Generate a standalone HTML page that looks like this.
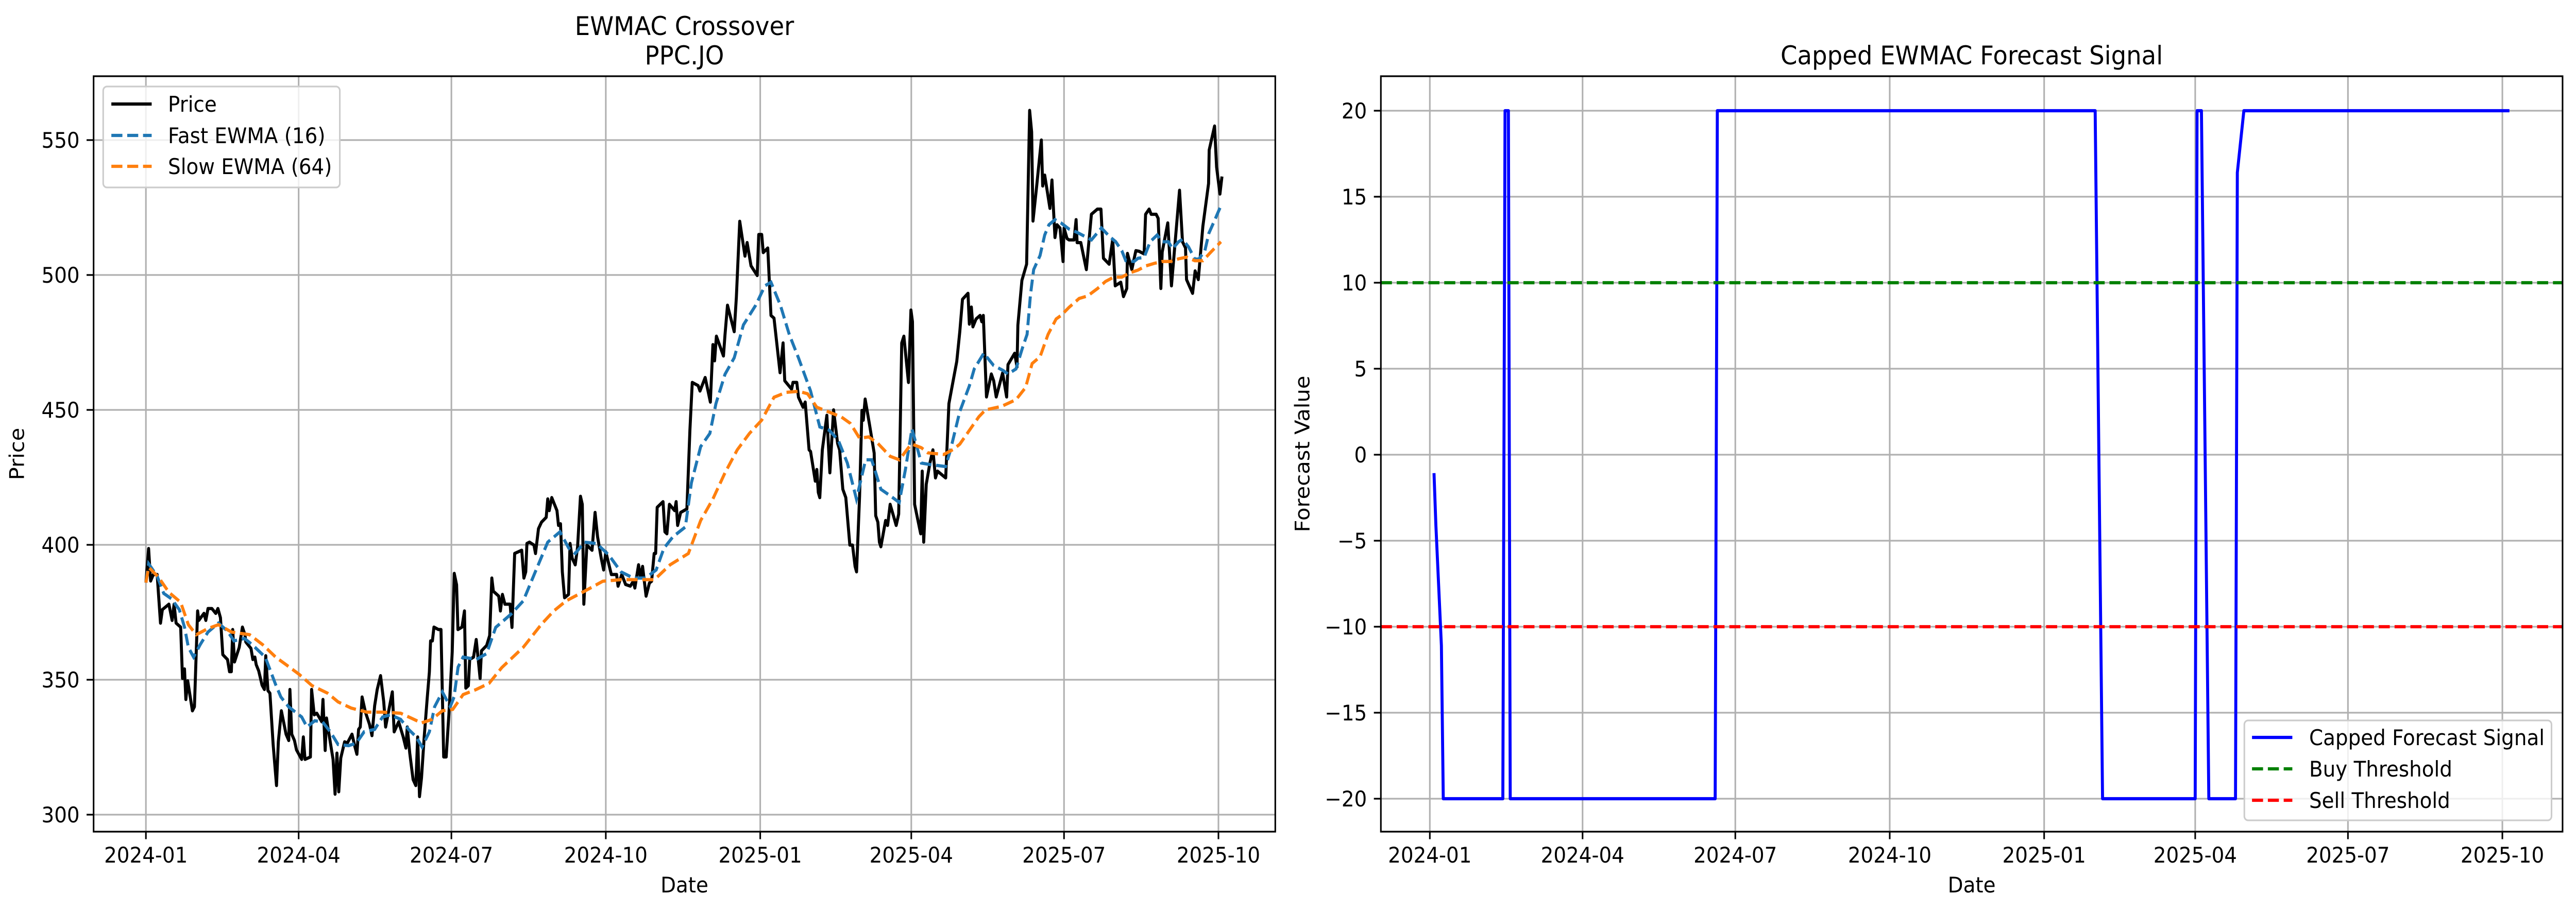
<!DOCTYPE html>
<html><head><meta charset="utf-8"><title>EWMAC Crossover</title>
<style>
html,body{margin:0;padding:0;background:#fff;width:100%;height:100%;overflow:hidden;}
svg{display:block;width:100vw;height:100vh;}
text{font-family:"DejaVu Sans","Liberation Sans",sans-serif;fill:#000;}
</style></head>
<body>
<svg id="fig" xmlns="http://www.w3.org/2000/svg" viewBox="0 0 5367 1771" preserveAspectRatio="none">
<rect x="0" y="0" width="5367" height="1771" fill="#fff"/>
<defs>
<clipPath id="clipL"><rect x="195" y="148" width="2462" height="1467"/></clipPath>
<clipPath id="clipR"><rect x="2877" y="148" width="2462" height="1467"/></clipPath>
</defs>
<g id="left"></g>
<g id="right"></g>
</svg>
<script>
// ---- data (day offsets from 2024-01-01) ----
const xTickDays = [0, 91, 182, 274, 366, 456, 547, 639];
const xTickLabels = ["2024-01","2024-04","2024-07","2024-10","2025-01","2025-04","2025-07","2025-10"];
const priceTicks = [300, 350, 400, 450, 500, 550];
const forecastTicks = [-20, -15, -10, -5, 0, 5, 10, 15, 20];
const buyThreshold = 10;
const sellThreshold = -10;

const pricePoints = [[0,386],[1.6,398.6],[2.8,386.6],[4.4,389],[6.7,389],[8.7,371],[9.8,376],[13.7,378],[15.6,372],[16.8,378],[18,371],[20.7,369.5],[21.8,350.5],[23,354],[23.8,342.7],[24.9,349.6],[27.7,338.5],[28.9,340],[30.8,375.5],[31.5,372],[34.6,374.6],[35.7,372],[37,376.4],[39.3,376.4],[41.6,374.6],[42.9,376.4],[44.4,373],[45.8,359.3],[48.6,357.5],[49.8,353],[50.9,353],[51.7,368.6],[52.8,356.6],[55.6,362],[57.5,369.5],[59,366.7],[59.5,364],[62.6,361.6],[63.7,357.5],[64.9,358.4],[65.7,355.6],[67.2,353.3],[69.2,348],[70.6,346.4],[71.4,358.9],[72.7,346],[73.9,345],[75.8,326],[77.8,310.8],[78.9,327],[80.7,338.5],[83.5,329.8],[85.1,327.5],[85.8,346.4],[86.9,329.8],[88.5,327.5],[89.7,324],[92.8,320.5],[93.8,328.8],[94.8,320.5],[98,321.4],[98.7,346.4],[100.3,337],[101.8,337.6],[104.8,334.4],[105.5,342.7],[106.8,323.8],[107.6,335.8],[109.1,329.8],[111.5,320.5],[112.7,307.6],[113.8,322.8],[114.9,308.5],[116.1,321],[118.4,327],[120,326.5],[122.8,329.8],[124.6,325],[125.7,322.4],[126.7,331.6],[127.7,332.5],[128.8,343.6],[130.8,338],[133.2,333.5],[134.7,329.3],[136.3,340.4],[137.8,346.4],[139.8,351.5],[141.7,341.8],[142.8,332.5],[146.8,345.5],[147.9,330.7],[150.6,334.4],[153.3,328.8],[154.9,324.7],[155.7,332.5],[157.2,322.8],[159.2,313],[160.8,310.8],[161.9,328.8],[163,306.7],[164.2,313.6],[165.8,328.8],[167.6,343.2],[168.9,352.9],[169.6,364.4],[170.7,364.4],[171.6,369.5],[174.3,368.6],[175.8,368.6],[177.4,321.4],[178.9,321.4],[180.5,337],[182.5,360.3],[183.7,389.4],[185.1,385.2],[185.9,368.6],[188.3,369.5],[189.8,375.5],[190.6,346.9],[192.1,347.8],[192.9,357.5],[195.2,358.4],[196.8,364.9],[199.1,350.5],[199.9,360.7],[203,362.7],[204.8,366.4],[206.1,387.7],[207,382.8],[210.2,381],[211.2,375.5],[212.4,381.6],[213.9,378],[217,378],[218.1,369.4],[219.7,396.8],[223.9,398],[225.2,387.7],[226.3,390],[227,400.5],[228.5,401],[231.2,399.9],[232.1,396.8],[233.9,406],[235.7,408.4],[238.5,410.2],[239.4,417],[240.3,412.7],[241.8,417.5],[244.9,412.7],[245.8,407.2],[247,407.8],[248.1,390],[249.4,380.4],[251.8,381.6],[252.7,400.5],[254,395],[255.8,392.6],[257.2,399.3],[258.9,418],[260,415],[260.9,378],[262.7,399.9],[265.8,398],[267.6,412],[269.1,403],[271.3,395],[272.7,390.7],[274,397.4],[277.3,389],[280.4,389],[281.3,384.7],[283.5,389],[285.8,385.3],[288.6,384.7],[290.4,386.5],[291.3,384],[293.5,392.6],[294.6,387.7],[295.9,392],[298,381],[300,385.9],[301.3,386.5],[302.8,396.8],[303.7,396.8],[304.6,413.9],[308.1,416],[309.2,404.8],[310.4,404.1],[311.9,415],[315,412.7],[315.9,416],[316.8,407.2],[318.6,412],[322.3,413.3],[324.1,442.5],[325.5,460.2],[329,459],[330.1,457],[333.2,462],[336.3,452.9],[337.8,474.2],[338.8,468.2],[339.9,477.3],[344.1,470],[345,477.8],[346.5,488.8],[350.5,479],[351.8,491.8],[353.8,519.9],[356.9,507],[358.2,512],[360.5,503.4],[364.2,499.8],[365.1,515],[366.9,515],[367.8,508.3],[370.5,510],[372.4,485],[374.2,484],[377.8,463.8],[379.6,474.8],[380.6,460.8],[384.7,457.7],[385.5,460.2],[387.8,460.2],[388.8,454.7],[391.5,451],[392.8,452.9],[395.1,435.2],[396,434.6],[398.8,423.6],[399.7,427.9],[400.6,419.4],[401.5,417.5],[403,435.2],[405.7,448],[407.5,426.7],[409.7,450],[412.1,437.6],[413.3,435.2],[415.2,420.6],[417,417.5],[419.4,399.9],[421,399.9],[422.5,392],[423.4,390],[425.2,418],[426.6,449.8],[427.4,446.2],[428.5,454],[431,445],[433.9,434],[434.8,410.8],[436.1,408.4],[437,401],[437.9,399.3],[440.7,409],[441.9,407.2],[443.4,415],[447,407.2],[448.5,411.4],[450.3,474.8],[451.6,477.3],[454.3,460.2],[455.8,487],[456.7,482.7],[458,415],[461.6,404.1],[462.5,427.3],[463.4,401],[464.9,422.4],[467.1,430.3],[468.9,435.2],[470.4,424.8],[471.6,427.3],[476.5,424.8],[478.4,452.3],[481.3,462],[483.1,468],[484.9,479],[486.5,491],[489.8,493.2],[490.6,481.8],[491.8,488.1],[492.7,480.8],[494.6,483.7],[497,485],[498,482.7],[498.9,485],[500.8,454.8],[503.7,463.3],[505.1,460.8],[506.6,454.8],[510.4,463.7],[512.8,454.8],[513.6,466.8],[517.6,471],[519,465.9],[519.5,481.4],[521.9,498],[524.7,504],[526.5,561],[527.7,553],[528.5,520],[530.7,533],[533.5,550],[534.3,533],[535.5,537],[538.6,524.7],[539.8,535.2],[541.6,513.9],[542.8,518.6],[544.6,517.4],[546.4,505],[547,517.4],[548.8,513.5],[550,513],[553,513],[554.2,520.5],[554.8,512],[557,512],[560.3,502],[563.3,522.5],[566.9,524.4],[569,524.4],[570.5,506.2],[573.9,504],[576,513.2],[577.5,496],[580.8,497.3],[582.4,492],[584.4,495],[584.8,508],[587.4,502],[589.8,509],[591.7,508.8],[594.7,507.8],[595.6,522.5],[597.7,524.4],[598.9,522.5],[601.9,522.5],[603.1,521],[604.7,495],[605.5,508.5],[608.8,519.3],[611,496],[615.8,531.4],[617.6,512.3],[619.4,510],[620,498.3],[623.6,493.2],[625.1,501.5],[627,498.3],[629.7,518],[633.1,533.9],[633.5,546.3],[636.7,555.2],[637.9,540],[639.9,530],[641.1,536.5]];

const fastPoints = [[0,386],[1.6,393],[6.7,388.4],[10.6,382],[15.2,380],[19.9,376],[23,369.5],[25.3,362],[28.4,358.4],[32.3,363],[37,367.7],[43.2,371],[48.6,368],[52.5,364.4],[58.7,365.3],[63.3,363],[71.1,358.4],[77.3,348.2],[80.4,343.6],[85,340],[92.8,336.2],[96,332.5],[100.6,334.8],[105.2,334.4],[109.9,330.7],[114.5,326],[120.8,325.6],[125.4,326.5],[130,330.7],[136.3,331.6],[141,336.2],[145.6,337],[151.8,335.3],[156.5,331.6],[161.1,328.8],[164.5,325.1],[168.9,330.7],[172,340],[176.6,345.5],[181.3,340],[183.6,343.6],[186,354.7],[189,358.4],[196.8,357.5],[203,359.7],[208.4,369.4],[217.5,374.3],[224.8,379.2],[232,390],[239.4,401],[246.7,404.8],[252,398.7],[255.8,396.8],[261.3,401],[268.5,400.5],[275.8,396.2],[283,390],[290.4,387.7],[297.7,387.7],[304,390.7],[308.6,398.7],[314,403],[321.4,406.6],[325,423],[330.5,436.4],[336,441.3],[339.6,452.3],[345,463.2],[350.5,469.3],[356,481.5],[363.3,488.8],[368.8,496],[372.4,497.3],[378,488.8],[383.4,477.8],[388.8,469.3],[396,457],[401.5,443.7],[407,442.5],[412.4,438.9],[417.9,430.3],[423.3,417],[428.8,431.5],[432.4,431.5],[437.9,420.6],[443.4,418.2],[448.8,415.7],[452.5,427.9],[456.4,443],[462,430.3],[467.8,429.7],[476.4,429],[479.2,434.8],[484.9,449.4],[490.6,458.9],[493.5,465.2],[499.2,471],[505,466.5],[510.7,464.6],[513.6,463.3],[518.4,465.2],[522.2,472.9],[525,478],[527,492.6],[528.9,502],[532.7,507.2],[535.5,514.8],[538,518.6],[541.6,520.5],[545.2,519.3],[550,517],[554.8,515.8],[559.7,514.2],[563.3,513],[569.3,517.4],[574.2,514.2],[577.8,512.3],[581.4,509],[583.8,505.3],[588.7,505],[591.1,506.2],[594.7,506.5],[598.3,512.3],[602.5,514.8],[605.5,512.3],[609.2,512.3],[611.6,509.7],[615.2,512.3],[617.6,513.2],[621.2,510.4],[624.9,505.9],[627.3,505.9],[630.9,509],[633.3,515.5],[636.9,520.5],[640,525]];

const slowPoints = [[0,386],[1.6,391.7],[7.5,388],[13.7,382.4],[20.7,378.7],[25.3,370.4],[30,366.7],[37,369],[43.2,370.4],[51,367.7],[61.8,366.7],[69.6,363],[77.3,358.4],[83.5,355.6],[91.3,352],[99,347.8],[108.3,345],[114.5,341.8],[122.3,339.5],[131.6,338],[141,338],[151.8,337.6],[158,335.8],[164.2,334],[170.4,335.3],[176.6,338.5],[182.8,339],[189,344.5],[196.8,346.4],[204.5,348.7],[212,354.5],[224.8,362],[235.7,370.6],[243,375.5],[250.3,379.2],[261.3,382.8],[272.2,386.5],[283,387.1],[294,387.1],[303,387.1],[312.3,392.6],[323.2,396.8],[330.5,409],[337.8,417],[345,426.7],[352.3,435.2],[359.6,441.3],[366.9,446.2],[374.2,454.7],[381.5,456.5],[388.8,456.9],[394.2,456],[399.7,451],[407,449.2],[414.3,447.4],[419.7,445],[425.2,439.5],[430.6,440],[436.1,437.6],[443.4,432.8],[448.9,431.5],[454.3,436],[456.4,437.3],[462,436],[465.8,434.1],[475.4,433.5],[481.1,435.4],[484.9,437.3],[490.6,442.4],[496.3,447.5],[500.2,450],[509.7,451.3],[518.4,453.8],[524.1,458.3],[528,467.2],[532.7,469.7],[537.5,478],[542.3,483.7],[545.2,485],[550,488],[556,491.3],[560.9,492.2],[567,495],[571.7,497.6],[576.6,499.2],[581.4,499.2],[586.2,500.8],[591,501.8],[595.9,503.4],[600.7,504.3],[605.5,505],[610.4,505],[615.2,506],[620,506.6],[624.9,505.3],[629.7,505.3],[634.5,508.5],[640.5,512.3]];

const signalPoints = [[2.5,-1.07],[3.6,-4.1],[6.9,-11.1],[8,-20],[43.5,-20],[44.8,20],[46.8,20],[47.9,-20],[170,-20],[171.3,20],[396.4,20],[400.8,-20],[456,-20],[457.1,20],[459.7,20],[464.1,-20],[480,-20],[481.1,16.4],[485,20],[643.2,20]];

// ---- layout / axis functions ----
const NS = "http://www.w3.org/2000/svg";
const PX_PER_DAY = 3.497;
const L = {x0:195, x1:2657, y0:148, y1:1615, origin:304};
const R = {x0:2877, x1:5339, y0:148, y1:1615, origin:2979};
function xL(d){ return L.origin + d*PX_PER_DAY; }
function xR(d){ return R.origin + d*PX_PER_DAY; }
function yL(v){ return 272 + (550 - v)*5.24; }
function yR(v){ return 215 + (20 - v)*33.4; }

function mk(tag, attrs, parent){
  const e = document.createElementNS(NS, tag);
  for (const k in attrs) e.setAttribute(k, attrs[k]);
  parent.appendChild(e);
  return e;
}
function pathFrom(points, fx, fy){
  return points.map((p,i)=>(i?'L':'M')+fx(p[0]).toFixed(1)+' '+fy(p[1]).toFixed(1)).join(' ');
}

function drawAxes(g, A, fx, fy, yTicks, yLabelX, ylabel){
  const grid = mk('g', {}, g);
  
  
  xTickDays.forEach(d=>{
    mk('line',{x1:fx(d),x2:fx(d),y1:A.y0,y2:A.y1,stroke:'#b0b0b0','stroke-width':3.3},grid);
  });
  yTicks.forEach(v=>{
    mk('line',{x1:A.x0,x2:A.x1,y1:fy(v),y2:fy(v),stroke:'#b0b0b0','stroke-width':3.3},grid);
  });
  xTickDays.forEach((d,i)=>{
    mk('line',{x1:fx(d),x2:fx(d),y1:A.y1,y2:A.y1+14.6,stroke:'#000','stroke-width':3.3},g);
    const t = mk('text',{x:fx(d),y:A.y1+60,'font-size':41.7,'text-anchor':'middle'},g);
    
    
    t.textContent = xTickLabels[i];
  });
  yTicks.forEach(v=>{
    mk('line',{x1:A.x0-14.6,x2:A.x0,y1:fy(v),y2:fy(v),stroke:'#000','stroke-width':3.3},g);
    const t = mk('text',{x:A.x0-29,y:fy(v)+15,'font-size':41.7,'text-anchor':'end'},g);
    
    
    t.textContent = v < 0 ? '\u2212' + Math.abs(v) : String(v);
  });
  const xl = mk('text',{x:(A.x0+A.x1)/2,y:1733,'font-size':41.7,'text-anchor':'middle'},g);
  
  
  xl.textContent = 'Date';
  const cy = (A.y0+A.y1)/2;
  const yl = mk('text',{x:yLabelX,y:cy,'font-size':41.7,'text-anchor':'middle',transform:'rotate(-90 '+yLabelX+' '+cy+')'},g);
  
  
  yl.textContent = ylabel;
}
function drawFrame(g, A){
  const f = mk('rect',{x:A.x0,y:A.y0,width:A.x1-A.x0,height:A.y1-A.y0,fill:'none',stroke:'#000','stroke-width':3.3},g);
  
  
}

// ---- left chart ----
const gl = document.getElementById('left');
drawAxes(gl, L, xL, yL, priceTicks, 50, 'Price');
const plotL = mk('g',{'clip-path':'url(#clipL)'},gl);
const pPrice = mk('path',{d:pathFrom(pricePoints,xL,yL),fill:'none',stroke:'#000','stroke-width':6.25,'stroke-linejoin':'round'},plotL);


const pFast = mk('path',{d:pathFrom(fastPoints,xL,yL),fill:'none',stroke:'#1f77b4','stroke-width':6.25,'stroke-dasharray':'23 10'},plotL);


const pSlow = mk('path',{d:pathFrom(slowPoints,xL,yL),fill:'none',stroke:'#ff7f0e','stroke-width':6.25,'stroke-dasharray':'23 10'},plotL);


drawFrame(gl, L);
const t1 = mk('text',{x:1426,y:68,'font-size':50,'text-anchor':'middle'},gl);


t1.textContent = 'EWMAC Crossover';
const t2 = mk('text',{x:1426,y:125,'font-size':50,'text-anchor':'middle'},gl);


t2.textContent = 'PPC.JO';

const lgL = mk('g',{},gl);


mk('rect',{x:215,y:168,width:493,height:196,rx:8,fill:'#fff','fill-opacity':0.8,stroke:'#cccccc','stroke-width':3.3},lgL);
[['Price','#000',null,202],['Fast EWMA (16)','#1f77b4','23 10',263],['Slow EWMA (64)','#ff7f0e','23 10',323]].forEach(e=>{
  const row = mk('g',{},lgL);
  
  
  const a = {x1:232,x2:316,y1:e[3],y2:e[3],stroke:e[1],'stroke-width':6.25};
  if (e[2]) a['stroke-dasharray'] = e[2];
  mk('line',a,row);
  const t = mk('text',{x:350,y:e[3]+15,'font-size':41.7},row);
  t.textContent = e[0];
});

// ---- right chart ----
const gr = document.getElementById('right');
drawAxes(gr, R, xR, yR, forecastTicks, 2728, 'Forecast Value');
const plotR = mk('g',{'clip-path':'url(#clipR)'},gr);
const pSig = mk('path',{d:pathFrom(signalPoints,xR,yR),fill:'none',stroke:'#0000ff','stroke-width':6.25,'stroke-linejoin':'round'},plotR);


const buy = mk('line',{x1:R.x0,x2:R.x1,y1:yR(buyThreshold),y2:yR(buyThreshold),stroke:'#008000','stroke-width':6.25,'stroke-dasharray':'23 10'},plotR);


const sell = mk('line',{x1:R.x0,x2:R.x1,y1:yR(sellThreshold),y2:yR(sellThreshold),stroke:'#ff0000','stroke-width':6.25,'stroke-dasharray':'23 10'},plotR);


drawFrame(gr, R);
const t3 = mk('text',{x:4108,y:125,'font-size':50,'text-anchor':'middle'},gr);


t3.textContent = 'Capped EWMAC Forecast Signal';

const lgR = mk('g',{},gr);


mk('rect',{x:4676,y:1399,width:640,height:194,rx:8,fill:'#fff','fill-opacity':0.8,stroke:'#cccccc','stroke-width':3.3},lgR);
[['Capped Forecast Signal','#0000ff',null,1432],['Buy Threshold','#008000','23 10',1493],['Sell Threshold','#ff0000','23 10',1554]].forEach(e=>{
  const row = mk('g',{},lgR);
  
  
  const a = {x1:4692,x2:4776,y1:e[3],y2:e[3],stroke:e[1],'stroke-width':6.25};
  if (e[2]) a['stroke-dasharray'] = e[2];
  mk('line',a,row);
  const t = mk('text',{x:4811,y:e[3]+15,'font-size':41.7},row);
  t.textContent = e[0];
});
</script>
</body></html>
